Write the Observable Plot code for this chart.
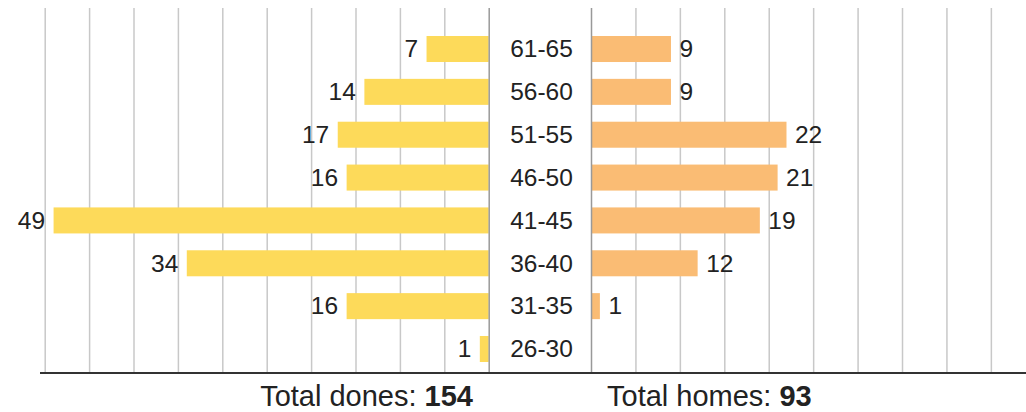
<!DOCTYPE html>
<html><head><meta charset="utf-8">
<script src="https://cdn.jsdelivr.net/npm/d3@7"></script>
<script src="https://cdn.jsdelivr.net/npm/@observablehq/plot@0.6"></script>
<style>
html,body{margin:0;padding:0;background:#fff;}
#chart{position:relative;width:1026px;height:412px;font-family:"Liberation Sans",Arial,sans-serif;color:#222;}
#row{display:flex;position:absolute;left:0;top:0;}
.tot{position:absolute;top:382px;font-size:29px;line-height:29px;white-space:nowrap;color:#222;}
.tot b{font-weight:bold;}
</style></head><body>
<div id="chart"><div id="row"></div><div id="totL" class="tot"></div><div id="totR" class="tot"></div></div>
<script>
// ---- data ----
const ages  = ["61-65","56-60","51-55","46-50","41-45","36-40","31-35","26-30"];
const dones = [7, 14, 17, 16, 49, 34, 16, 1];
const homes = [9, 9, 22, 21, 19, 12, 1, 0];
const gridTicks = [0, 5, 10, 15, 20, 25, 30, 35, 40, 45, 50];
const totalLabels = ["Total dones: ", "Total homes: "];

const FONT = '"Liberation Sans", Arial, sans-serif';
const rows = (vals) => vals.map((v, i) => ({age: ages[i], value: v}));

const axisLine = (x0) => (index, scales, values, dims) => {
  const y = dims.height - dims.marginBottom;
  return d3.create("svg:line")
    .attr("x1", x0).attr("x2", dims.width)
    .attr("y1", y).attr("y2", y)
    .attr("stroke", "#333").attr("stroke-width", 2).node();
};

const yScale = {domain: ages, range: [36, 362], paddingInner: 0.393, paddingOuter: 0, round: false, axis: null};
const common = {height: 374, marginTop: 8, marginBottom: 1, marginRight: 0,
  style: {fontFamily: FONT, fontSize: "24.5px", color: "#222", background: "transparent", overflow: "visible"}};

const left = Plot.plot({
  ...common, width: 490, marginLeft: 0,
  x: {domain: [0, 50], range: [488.7, 44.7], axis: null},
  y: yScale,
  marks: [
    Plot.ruleX(gridTicks.filter(t => t > 0), {stroke: "#c8c8c8", strokeWidth: 1.5}),
    Plot.barX(rows(dones), {x: "value", y: "age", fill: "#fdda5a"}),
    Plot.ruleX([0], {stroke: "#999", strokeWidth: 1.5}),
    Plot.text(rows(dones).filter(d => d.value > 0), {x: "value", y: "age", text: d => String(d.value), textAnchor: "end", dx: -9, fill: "#222"}),
    axisLine(40)
  ]
});

const right = Plot.plot({
  ...common, width: 536, marginLeft: 101,
  x: {domain: [0, 50], range: [101, 545.3], axis: null},
  y: yScale,
  marks: [
    Plot.ruleX(gridTicks.filter(t => t > 0 && t < 50), {stroke: "#c8c8c8", strokeWidth: 1.5}),
    Plot.barX(rows(homes), {x: "value", y: "age", fill: "#fabc74"}),
    Plot.ruleX([0], {stroke: "#999", strokeWidth: 1.5}),
    Plot.text(rows(homes).filter(d => d.value > 0), {x: "value", y: "age", text: d => String(d.value), textAnchor: "start", dx: 8, fill: "#222"}),
    Plot.text(ages, {y: d => d, text: d => d, frameAnchor: "left", dx: -50, textAnchor: "middle", fill: "#222"}),
    axisLine(0)
  ]
});

const row = document.getElementById("row");
row.appendChild(left);
row.appendChild(right);

const tL = document.getElementById("totL");
tL.style.right = (1026 - 473) + "px";
tL.innerHTML = totalLabels[0] + "<b>" + d3.sum(dones) + "</b>";
const tR = document.getElementById("totR");
tR.style.left = "607px";
tR.innerHTML = totalLabels[1] + "<b>" + d3.sum(homes) + "</b>";
</script>
</body></html>
